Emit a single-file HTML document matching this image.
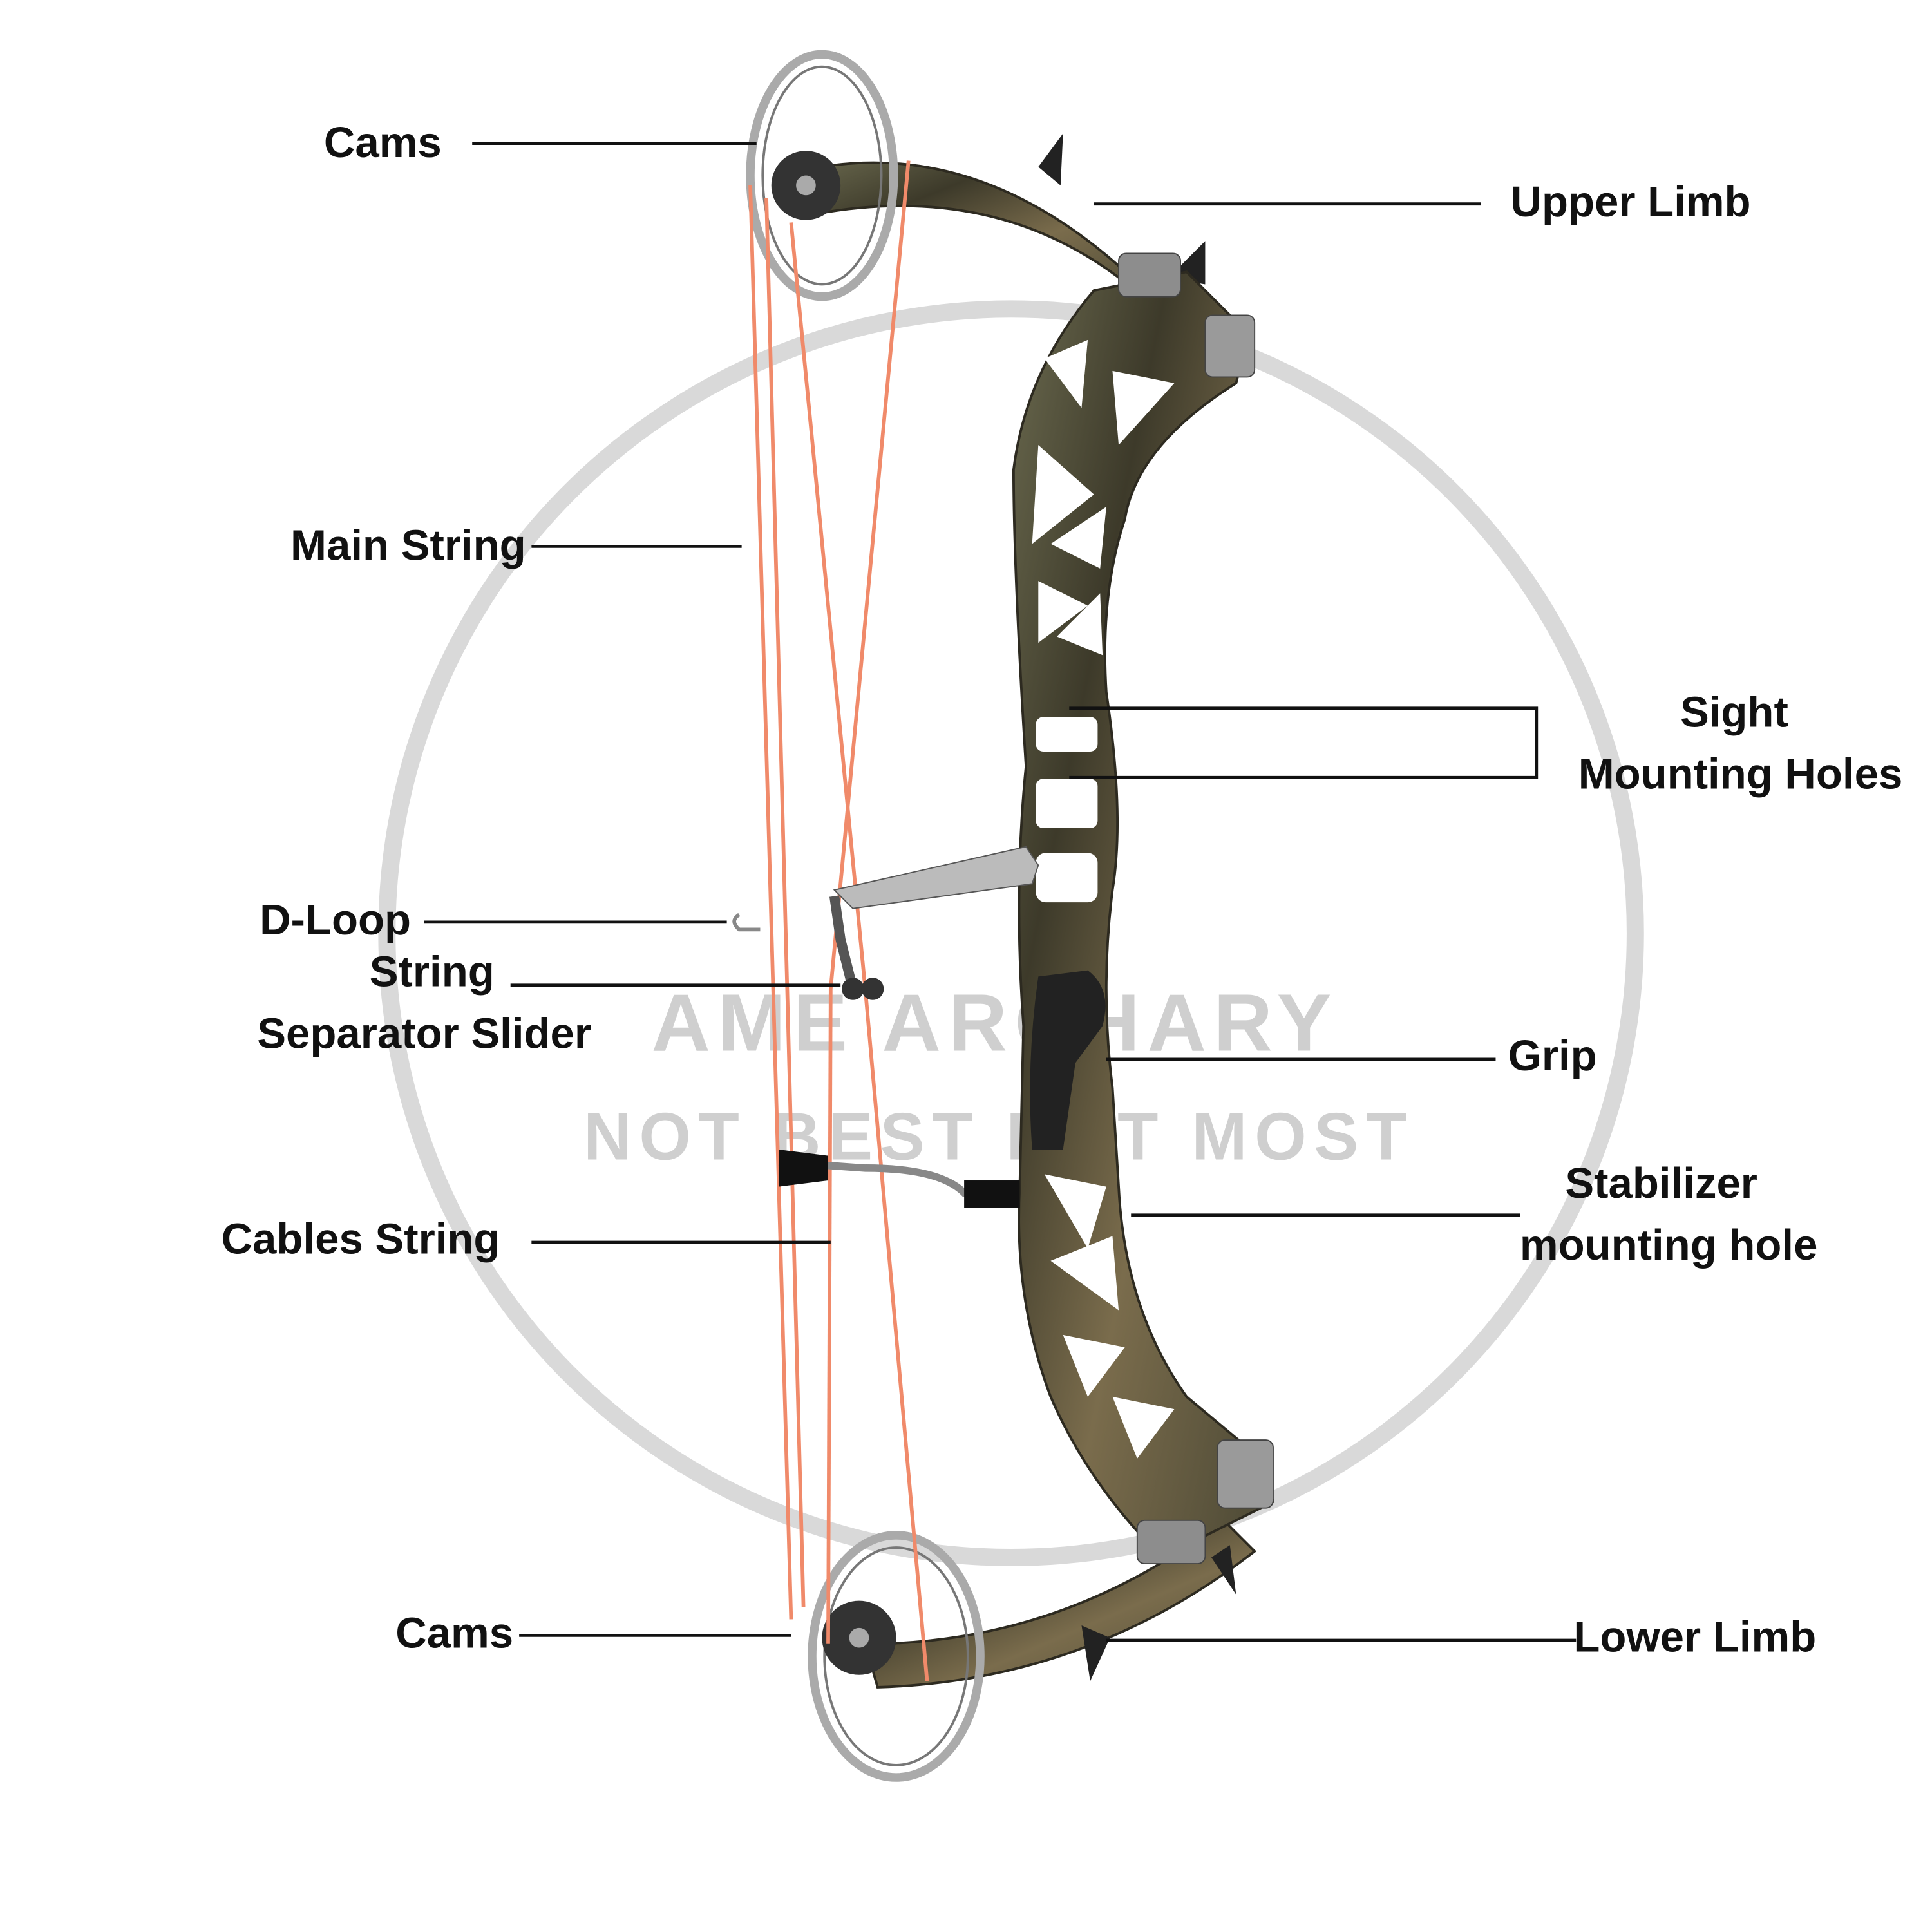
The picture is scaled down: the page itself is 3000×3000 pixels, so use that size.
<!DOCTYPE html>
<html><head><meta charset="utf-8"><style>
html,body{margin:0;padding:0;background:#fff;}
svg{display:block;}
text{font-family:"Liberation Sans",sans-serif;font-weight:bold;fill:#111;}
</style></head><body>
<svg width="3000" height="3000" viewBox="0 0 1563 1563" xmlns="http://www.w3.org/2000/svg">
<defs>
<linearGradient id="camo" x1="0" y1="0" x2="1" y2="1">
<stop offset="0" stop-color="#6b6a4f"/><stop offset="0.3" stop-color="#3d3a2a"/>
<stop offset="0.6" stop-color="#7a6c4c"/><stop offset="1" stop-color="#4a4734"/>
</linearGradient>
</defs>
<!-- watermark ring -->
<circle cx="818" cy="755" r="505" fill="none" stroke="#d9d9d9" stroke-width="14"/>
<text x="805" y="850" font-size="66" text-anchor="middle" style="fill:#cfcfcf;font-weight:900" letter-spacing="6">AME ARCHARY</text>
<text x="808" y="938" font-size="54" text-anchor="middle" style="fill:#cfcfcf;font-weight:900" letter-spacing="6">NOT BEST BUT MOST</text>

<!-- upper limb -->
<path d="M640 140 Q780 105 905 215 L935 250 Q820 140 650 175 Z" fill="url(#camo)" stroke="#2d2a20" stroke-width="2"/>
<path d="M840 135 L860 108 L858 150 Z" fill="#222"/>
<path d="M945 225 L975 195 L975 230 Z" fill="#222"/>
<!-- lower limb -->
<path d="M700 1330 Q860 1330 990 1230 L1015 1255 Q880 1360 710 1365 Z" fill="url(#camo)" stroke="#2d2a20" stroke-width="2"/>
<path d="M875 1315 L882 1360 L898 1325 Z" fill="#222"/>
<path d="M980 1260 L1000 1290 L995 1250 Z" fill="#222"/>

<!-- riser -->
<path d="M885 235 L960 220 L1010 270 L1000 310 Q920 360 910 420 Q890 480 895 560 Q910 660 900 720 Q890 800 900 880 L905 960 Q910 1060 960 1130 L1020 1180 L1030 1215 L940 1260 Q880 1200 850 1130 Q820 1050 825 960 L828 830 Q820 720 830 620 Q820 460 820 380 Q830 300 885 235 Z" fill="url(#camo)" stroke="#2d2a20" stroke-width="2"/>
<g fill="#fff">
<path d="M845 290 L880 275 L875 330 Z"/><path d="M900 300 L950 310 L905 360 Z"/>
<path d="M840 360 L885 400 L835 440 Z"/><path d="M895 410 L890 460 L850 440 Z"/>
<path d="M840 470 L880 490 L840 520 Z"/><path d="M890 480 L892 530 L855 515 Z"/>
<rect x="838" y="580" width="50" height="28" rx="6"/><rect x="838" y="630" width="50" height="40" rx="6"/>
<rect x="838" y="690" width="50" height="40" rx="8"/>
<path d="M845 950 L895 960 L880 1010 Z"/><path d="M850 1020 L900 1000 L905 1060 Z"/>
<path d="M860 1080 L910 1090 L880 1130 Z"/><path d="M900 1130 L950 1140 L920 1180 Z"/>
</g>
<path d="M840 790 L880 785 Q900 800 892 830 L870 860 L860 930 L835 930 Q830 860 840 790 Z" fill="#222"/>
<rect x="905" y="205" width="50" height="35" rx="6" fill="#8d8d8d" stroke="#444"/>
<rect x="975" y="255" width="40" height="50" rx="6" fill="#9a9a9a" stroke="#444"/>
<rect x="985" y="1165" width="45" height="55" rx="6" fill="#9a9a9a" stroke="#444"/>
<rect x="920" y="1230" width="55" height="35" rx="6" fill="#8d8d8d" stroke="#444"/>

<!-- upper cam -->
<ellipse cx="665" cy="142" rx="58" ry="98" fill="none" stroke="#aaa" stroke-width="7"/>
<ellipse cx="665" cy="142" rx="48" ry="88" fill="none" stroke="#777" stroke-width="2"/>
<circle cx="652" cy="150" r="28" fill="#333"/>
<circle cx="652" cy="150" r="8" fill="#aaa"/>
<!-- lower cam -->
<ellipse cx="725" cy="1340" rx="68" ry="98" fill="none" stroke="#aaa" stroke-width="7"/>
<ellipse cx="725" cy="1340" rx="58" ry="88" fill="none" stroke="#777" stroke-width="2"/>
<circle cx="695" cy="1325" r="30" fill="#333"/>
<circle cx="695" cy="1325" r="8" fill="#aaa"/>

<g stroke="#f08a6a" stroke-width="3" fill="none">
<line x1="607" y1="150" x2="640" y2="1310"/>
<line x1="620" y1="160" x2="650" y2="1300"/>
<line x1="640" y1="180" x2="700" y2="800"/>
<line x1="700" y1="800" x2="750" y2="1360"/>
<line x1="735" y1="130" x2="672" y2="800"/>
<line x1="672" y1="800" x2="670" y2="1330"/>
</g>
<path d="M598 740 Q590 745 598 752 L615 752" stroke="#888" stroke-width="3" fill="none"/>
<path d="M675 720 L830 685 L840 700 L835 715 L690 735 Z" fill="#bbb" stroke="#555"/>
<path d="M675 725 L680 760 L690 800" stroke="#555" stroke-width="8" fill="none"/>
<circle cx="690" cy="800" r="9" fill="#333"/><circle cx="706" cy="800" r="9" fill="#333"/>
<path d="M630 940 L700 945 Q760 945 780 965 L825 965" stroke="#888" stroke-width="6" fill="none"/>
<path d="M630 930 L670 935 L670 955 L630 960 Z" fill="#111"/>
<rect x="780" y="955" width="45" height="22" fill="#111"/>

<g stroke="#111" stroke-width="2.5" fill="none">
<line x1="382" y1="116" x2="612" y2="116"/>
<line x1="885" y1="165" x2="1198" y2="165"/>
<line x1="430" y1="442" x2="600" y2="442"/>
<path d="M865 573 L1243 573 L1243 629 L865 629"/>
<line x1="343" y1="746" x2="588" y2="746"/>
<line x1="413" y1="797" x2="680" y2="797"/>
<line x1="895" y1="857" x2="1210" y2="857"/>
<line x1="430" y1="1005" x2="672" y2="1005"/>
<line x1="915" y1="983" x2="1230" y2="983"/>
<line x1="420" y1="1323" x2="640" y2="1323"/>
<line x1="895" y1="1327" x2="1275" y2="1327"/>
</g>

<g font-size="35">
<text x="262" y="127">Cams</text>
<text x="1222" y="175">Upper Limb</text>
<text x="235" y="453">Main String</text>
<text x="1403" y="588" text-anchor="middle">Sight</text>
<text x="1408" y="638" text-anchor="middle">Mounting Holes</text>
<text x="210" y="756">D-Loop</text>
<text x="400" y="798" text-anchor="end">String</text>
<text x="208" y="848">Separator Slider</text>
<text x="1220" y="866">Grip</text>
<text x="1344" y="969" text-anchor="middle">Stabilizer</text>
<text x="1350" y="1019" text-anchor="middle">mounting hole</text>
<text x="179" y="1014">Cables String</text>
<text x="320" y="1333">Cams</text>
<text x="1273" y="1336">Lower Limb</text>
</g>
</svg>
</body></html>
